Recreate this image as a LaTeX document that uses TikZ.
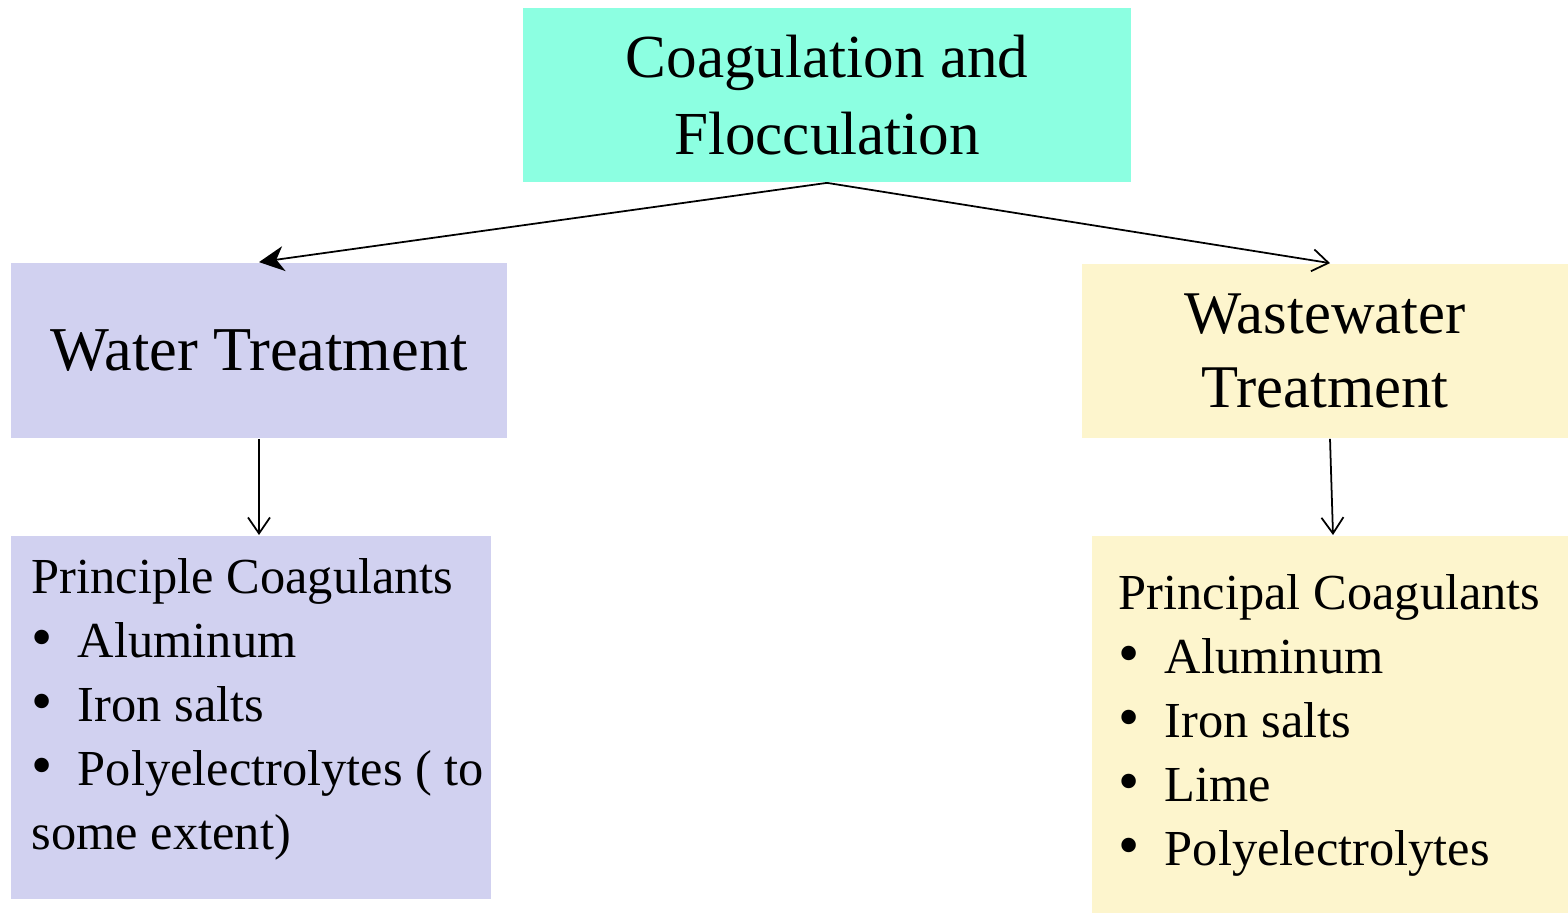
\documentclass[tikz,border=0pt]{standalone}
\usepackage{fontspec}
\setmainfont{Liberation Serif}
\usetikzlibrary{arrows.meta, positioning, calc}
\definecolor{aqua}{HTML}{8CFFE1}
\definecolor{lavender}{HTML}{D1D1F0}
\definecolor{paleyellow}{HTML}{FDF5CD}
\newcommand{\listdot}{\makebox[0.92cm][l]{\scalebox{1.2}{\textbullet}}}

\begin{document}
\begin{tikzpicture}[line width=1pt,
  headbox/.style={fill=#1, inner sep=0pt, align=center},
  listtext/.style={font=\fontsize{28.7}{36.5}\selectfont, anchor=north west, align=left, inner sep=0pt},
  openarrow/.style={-{Straight Barb[length=3.2mm, width=4.4mm]}},
  fillarrow/.style={-{Stealth[length=5mm, width=5mm, inset=1.5mm]}}]

% Canvas
\useasboundingbox (0,0) rectangle (31.36,-18.28);

% Headings
\node[headbox=aqua, minimum width=12.16cm, minimum height=3.48cm,
  font=\fontsize{34.8}{43.7}\selectfont] (coag) at (16.54,-1.90) {Coagulation and\\Flocculation};
\node[headbox=lavender, minimum width=9.92cm, minimum height=3.50cm,
  font=\fontsize{35.5}{42.5}\selectfont] (water) at (5.18,-7.01) {Water Treatment};
\node[headbox=paleyellow, minimum width=9.72cm, minimum height=3.48cm,
  font=\fontsize{34.5}{42.5}\selectfont] (waste) at (26.50,-7.02) {Wastewater\\Treatment};

% Coagulant lists
\fill[lavender] (0.22,-10.72) rectangle (9.82,-17.98);
\fill[paleyellow] (21.84,-10.72) rectangle (31.36,-18.26);
\node[listtext] (waterlist) at (0.62,-11.15) {Principle Coagulants\\
  \listdot Aluminum\\
  \listdot Iron salts\\
  \listdot Polyelectrolytes ( to\\
  some extent)};
\node[listtext] (wastelist) at (22.36,-11.47) {Principal Coagulants\\
  \listdot Aluminum\\
  \listdot Iron salts\\
  \listdot Lime\\
  \listdot Polyelectrolytes};
\coordinate (waterin) at (5.18,-10.70);
\coordinate (wastein) at (26.66,-10.70);

% Connectors
\draw[fillarrow] (coag.south) -- (water.north);
\draw[openarrow] (coag.south) -- ($(waste.north)+(0.1,0)$);
\draw[openarrow] (water.south) -- (waterin);
\draw[openarrow] ($(waste.south)+(0.1,0)$) -- (wastein);

\end{tikzpicture}
\end{document}
